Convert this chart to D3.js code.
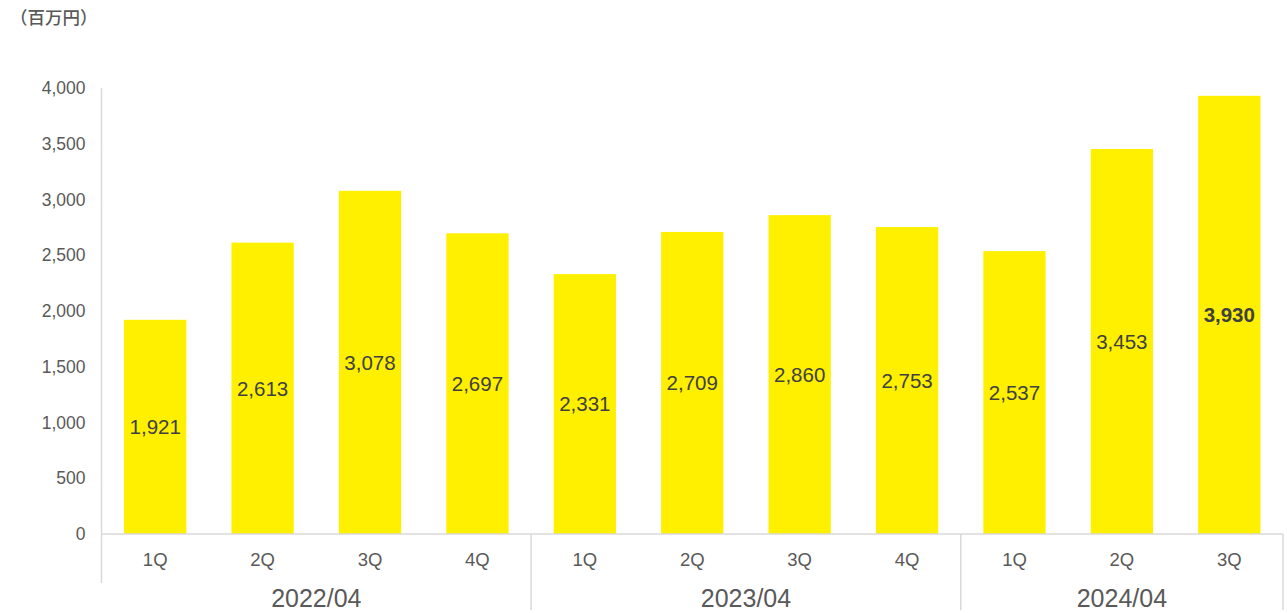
<!DOCTYPE html>
<html><head><meta charset="utf-8">
<script src="https://cdn.jsdelivr.net/npm/d3@7"></script>
<style>body{margin:0;background:#fff;}svg{display:block;font-family:"Liberation Sans",Arial,sans-serif;}</style>
</head><body>
<svg id="c" width="1287" height="613"></svg>
<script>
const years = ["2022/04","2022/04","2022/04","2022/04","2023/04","2023/04","2023/04","2023/04","2024/04","2024/04","2024/04"];
const quarters = ["1Q","2Q","3Q","4Q","1Q","2Q","3Q","4Q","1Q","2Q","3Q"];
const values = [1921,2613,3078,2697,2331,2709,2860,2753,2537,3453,3930];
const yTicks = [0,500,1000,1500,2000,2500,3000,3500,4000];
const groups = ["2022/04","2023/04","2024/04"];
const unitLabel = "（百万円）";

const svg = d3.select("#c");
const pLeft = 101.5, pRight = 1283, pTop = 88, pBottom = 534;
const ids = values.map((d,i)=>i);
const x = d3.scaleBand().domain(ids).range([pLeft, pRight]).paddingInner(0.42).paddingOuter(0.21);
const xOuter = d3.scaleBand().domain(ids).range([pLeft, pRight]);
const y = d3.scaleLinear().domain([0,4000]).range([pBottom, pTop]);

// y labels
const yAxis = d3.axisLeft(y).tickValues(yTicks).tickFormat(d3.format(",")).tickSize(0).tickPadding(16);
const ya = svg.append("g").attr("transform",`translate(${pLeft},0)`).call(yAxis);
ya.select(".domain").remove();
ya.selectAll("text").attr("font-size",17.5).attr("fill","#595959").attr("font-family","Liberation Sans, Arial, sans-serif");

// bars
svg.append("g").selectAll("rect").data(values).join("rect")
  .attr("x",(d,i)=>x(i)).attr("width",x.bandwidth())
  .attr("y",d=>y(d)).attr("height",d=>y(0)-y(d)).attr("fill","#FFF000");

// value labels
svg.append("g").selectAll("text").data(values).join("text")
  .attr("x",(d,i)=>x(i)+x.bandwidth()/2).attr("y",d=>(y(d)+y(0))/2)
  .attr("dy","0.35em").attr("text-anchor","middle")
  .attr("font-size",20.5).attr("fill","#404040")
  .attr("font-weight",(d,i)=>i===values.length-1?"bold":"normal")
  .text(d=>d3.format(",")(d));

// axes lines
const lc = "#d9d9d9";
svg.append("line").attr("x1",pLeft).attr("x2",pLeft).attr("y1",pTop).attr("y2",583).attr("stroke",lc).attr("stroke-width",1.5);
svg.append("line").attr("x1",pLeft).attr("x2",pRight).attr("y1",pBottom).attr("y2",pBottom).attr("stroke",lc).attr("stroke-width",1.5);
// group separators
const seps = [4,8];
seps.forEach(s=>{
  const sx = xOuter(s);
  svg.append("line").attr("x1",sx).attr("x2",sx).attr("y1",pBottom).attr("y2",610).attr("stroke",lc).attr("stroke-width",1.5);
});
svg.append("line").attr("x1",pRight).attr("x2",pRight).attr("y1",pBottom).attr("y2",610).attr("stroke",lc).attr("stroke-width",1.5);

// quarter labels
svg.append("g").selectAll("text").data(quarters).join("text")
  .attr("x",(d,i)=>x(i)+x.bandwidth()/2).attr("y",560).attr("dy","0.35em")
  .attr("text-anchor","middle").attr("font-size",18.5).attr("fill","#595959").text(d=>d);

// year labels
groups.forEach(g=>{
  const idx = ids.filter(i=>years[i]===g);
  const x0 = xOuter(idx[0]), x1 = xOuter(idx[idx.length-1])+xOuter.bandwidth();
  svg.append("text").attr("x",(x0+x1)/2).attr("y",598).attr("dy","0.35em")
    .attr("text-anchor","middle").attr("font-size",25).attr("fill","#595959").text(g);
});

// unit label
svg.append("text").attr("x",10).attr("y",18).attr("dy","0.35em").attr("font-size",17.5)
  .attr("font-weight",500)
  .attr("fill","#595959").attr("font-family","Noto Sans CJK JP, sans-serif").text(unitLabel);
</script>
</body></html>
